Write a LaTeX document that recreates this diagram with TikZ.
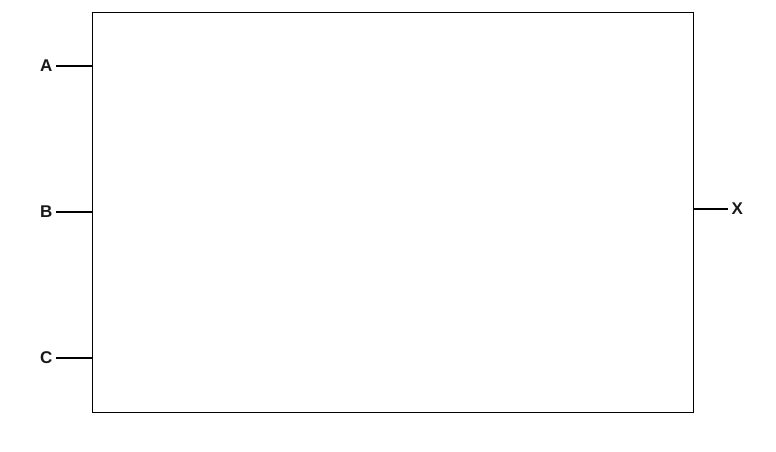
\documentclass[tikz,border=0pt]{standalone}
\usepackage{fontspec}
\setmainfont{Liberation Sans}
\begin{document}
\begin{tikzpicture}[x=1pt,y=1pt,line width=1.4pt,
  lbl/.style={font=\fontsize{17}{17}\selectfont\bfseries, inner sep=0pt, text=black!90}]
\useasboundingbox (0,0) rectangle (776,452);
\node[draw, line width=1.4pt, minimum width=601pt, minimum height=400pt, inner sep=0pt, anchor=south west] (box) at (92,39) {};
\coordinate (pa) at (92,386);
\coordinate (pb) at (92,240);
\coordinate (pc) at (92,94);
\coordinate (px) at (693,243);
\node[lbl, anchor=east] (A) at (53,386) {A};
\node[lbl, anchor=east] (B) at (53,240) {B};
\node[lbl, anchor=east] (C) at (53,94) {C};
\node[lbl, anchor=west] (X) at (731,243) {X};
\draw (A.east) ++(3,0) coordinate (a0) -- (pa);
\draw (B.east) ++(3,0) coordinate (b0) -- (pb);
\draw (C.east) ++(3,0) coordinate (c0) -- (pc);
\draw (px) -- ([xshift=-3pt]X.west);
\end{tikzpicture}
\end{document}
